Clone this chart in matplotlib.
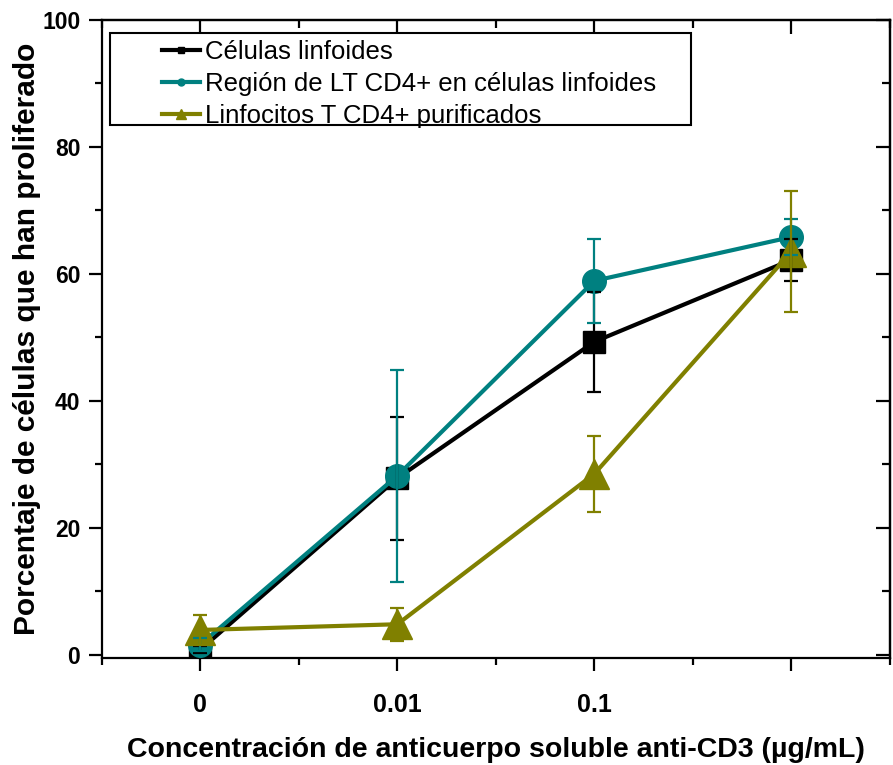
import matplotlib
matplotlib.use("Agg")
import matplotlib.pyplot as plt
from matplotlib.lines import Line2D
from matplotlib.patches import Rectangle
from matplotlib.ticker import MultipleLocator

plt.rcParams['font.family'] = ['Liberation Sans', 'DejaVu Sans']

# concentraciones de anti-CD3 (ug/mL)
concentraciones = ['0', '0.01', '0.1', '1']
etiquetas_x = ['0', '0.01', '0.1', '']

linfoides = [0.8, 27.8, 49.3, 62.2]
linfoides_err = [0.6, 9.7, 7.9, 3.3]

lt_cd4 = [1.6, 28.2, 58.9, 65.8]
lt_cd4_err = [1.0, 16.7, 6.6, 2.9]

purificados = [3.9, 4.8, 28.5, 63.5]
purificados_err = [2.4, 2.6, 6.0, 9.5]

nombres = ['Células linfoides',
           'Región de LT CD4+ en células linfoides',
           'Linfocitos T CD4+ purificados']
colores = ['black', '#008080', '#808000']
marcadores = ['s', 'o', '^']
tamanos = [16, 17, 22]

x = list(range(len(concentraciones)))
series = [(linfoides, linfoides_err), (lt_cd4, lt_cd4_err),
          (purificados, purificados_err)]

fig = plt.figure(figsize=(8.93, 7.65), dpi=100)
ax = fig.add_axes([0.114, 0.140, 0.8826, 0.834])

for i, (y, err) in enumerate(series):
    ax.plot(x, y, color=colores[i], lw=3, marker=marcadores[i],
            ms=tamanos[i], mec=colores[i], zorder=2 + i)
for i, (y, err) in enumerate(series):
    ax.errorbar(x, y, yerr=err, fmt='none', ecolor=colores[i],
                elinewidth=1.6, capsize=5, capthick=1.6, zorder=10 + i)

ax.set_xlim(-0.5, 3.5)
ax.set_ylim(-0.5, 100)
ax.set_xticks(x)
ax.set_xticklabels(etiquetas_x)
ax.xaxis.set_minor_locator(MultipleLocator(0.5))
ax.yaxis.set_major_locator(MultipleLocator(20))
ax.yaxis.set_minor_locator(MultipleLocator(10))

for s in ax.spines.values():
    s.set_linewidth(1.6)

ax.tick_params(axis='both', which='major', direction='out', length=9.5,
               width=1.6)
ax.tick_params(axis='both', which='minor', direction='out', length=5,
               width=1.6)
ax.tick_params(axis='x', which='major', labelsize=18, pad=16)
ax.tick_params(axis='y', which='major', labelsize=16.5, pad=6)
for lab in ax.get_xticklabels() + ax.get_yticklabels():
    lab.set_fontweight('bold')

# ejes espejo con marcas hacia dentro
top = ax.secondary_xaxis('top')
top.set_xticks(x)
top.xaxis.set_minor_locator(MultipleLocator(0.5))
top.tick_params(which='major', direction='in', length=10, width=1.6,
                labeltop=False)
top.tick_params(which='minor', direction='in', length=6, width=1.6)
top.spines['top'].set_linewidth(1.6)

right = ax.secondary_yaxis('right')
right.yaxis.set_major_locator(MultipleLocator(20))
right.yaxis.set_minor_locator(MultipleLocator(10))
right.tick_params(which='major', direction='in', length=10, width=1.6,
                  labelright=False)
right.tick_params(which='minor', direction='in', length=6, width=1.6)
right.spines['right'].set_linewidth(1.6)

ax.set_xlabel('Concentración de anticuerpo soluble anti-CD3 (µg/mL)',
              fontsize=20.5, fontweight='bold', labelpad=14)
ax.set_ylabel('Porcentaje de células que han proliferado',
              fontsize=21.5, fontweight='bold', labelpad=1)

handles = [Line2D([], [], color=colores[i], lw=3, marker=marcadores[i],
                  ms=[5, 5, 7][i], mec=colores[i], mfc=colores[i])
           for i in range(3)]
ax.legend(handles, nombres, loc='upper left', bbox_to_anchor=(0.077, 0.968),
          frameon=False, fontsize=18.5, handlelength=1.45, handletextpad=0.2,
          labelspacing=0.3, borderpad=0, borderaxespad=0)
ax.add_patch(Rectangle((0.011, 0.835), 0.737, 0.145, transform=ax.transAxes,
                       fill=False, lw=1.5, ec='black', zorder=20))

fig.savefig('out.png', dpi=100)
